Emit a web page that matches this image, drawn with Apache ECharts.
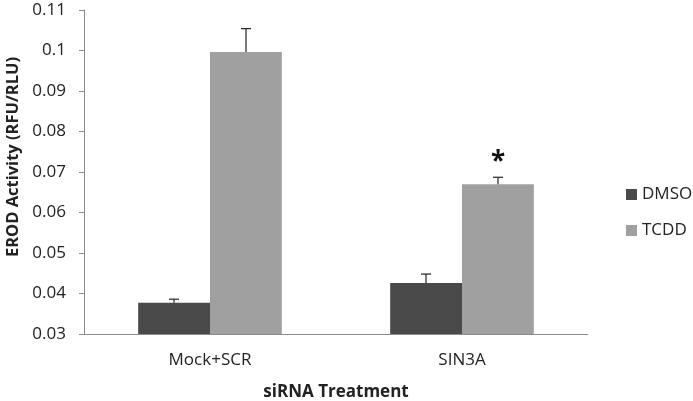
<!DOCTYPE html>
<html><head><meta charset="utf-8">
<script src="https://cdn.jsdelivr.net/npm/echarts@6/dist/echarts.min.js"></script>
<style>html,body{margin:0;padding:0;background:#fff}#c{width:693px;height:401px}</style>
</head><body><div id="c"></div>
<script>
const categories = ["Mock+SCR", "SIN3A"];
const seriesNames = ["DMSO", "TCDD"];
const dmso = [0.0377, 0.0426];
const dmsoErr = [0.0009, 0.0022];
const tcdd = [0.0996, 0.0670];
const tcddErr = [0.0058, 0.0017];
const significance = ["", "*"];
const yTicks = [0.03, 0.04, 0.05, 0.06, 0.07, 0.08, 0.09, 0.1, 0.11];
const yTitle = "EROD Activity (RFU/RLU)";
const xTitle = "siRNA Treatment";

const font = "'Open Sans', sans-serif";
const chart = echarts.init(document.getElementById('c'));

function errSeries(vals, errs, idx, sig) {
  return {
    type: 'custom', name: seriesNames[idx] + ' err', z: 5, silent: true,
    data: vals.map((v, i) => [i, v, errs[i], sig ? sig[i] : ""]),
    renderItem: function (params, api) {
      const ci = api.value(0);
      const base = api.coord([ci, api.value(1)]);
      const top = api.coord([ci, api.value(1) + api.value(2)]);
      const bw = api.size([1, 0])[0];
      const barW = bw * 0.2857;
      const x = base[0] + (idx === 0 ? -barW / 2 : barW / 2);
      const children = [
        {type: 'line', shape: {x1: x, y1: base[1], x2: x, y2: top[1]}, style: {stroke: '#222', lineWidth: 1.2}},
        {type: 'line', shape: {x1: x - 5, y1: top[1], x2: x + 5, y2: top[1]}, style: {stroke: '#222', lineWidth: 1.2}}
      ];
      const s = api.value(3);
      if (s) {
        children.push({type: 'text', style: {text: String(s), x: x, y: top[1] - 2, textAlign: 'center', textVerticalAlign: 'bottom', font: 'bold 26px ' + font, fill: '#111'}});
      }
      return {type: 'group', children: children};
    }
  };
}

chart.setOption({
  animation: false,
  backgroundColor: '#fff',
  grid: {left: 84, right: 105, top: 10, bottom: 67, outerBoundsMode: 'none', containLabel: false},
  legend: {
    data: seriesNames, orient: 'vertical', left: 621, top: 181, itemGap: 19,
    icon: 'rect', itemWidth: 11, itemHeight: 11, itemTextGap: 5,
    textStyle: {fontFamily: font, fontSize: 17, color: '#222'}
  },
  graphic: [
    {type: 'text', x: 13, y: 157, rotation: Math.PI / 2,
      style: {text: yTitle, textAlign: 'center', textVerticalAlign: 'middle', font: 'bold 16.5px ' + font, fill: '#222'}},
    {type: 'text', x: 336, y: 392,
      style: {text: xTitle, textAlign: 'center', textVerticalAlign: 'middle', font: 'bold 17px ' + font, fill: '#222'}}
  ],
  xAxis: {
    type: 'category', data: categories,
    axisLine: {lineStyle: {color: '#8c8c8c', width: 1}},
    axisTick: {show: false},
    axisLabel: {fontFamily: font, fontSize: 17, color: '#222', margin: 18}
  },
  yAxis: {
    type: 'value', min: yTicks[0], max: yTicks[yTicks.length - 1], interval: 0.01,
    axisLine: {show: true, lineStyle: {color: '#8c8c8c', width: 1}},
    axisTick: {show: true, length: 5, lineStyle: {color: '#8c8c8c'}},
    splitLine: {show: false},
    axisLabel: {fontFamily: font, fontSize: 17, color: '#222', margin: 18,
      formatter: v => String(parseFloat(v.toFixed(3)))}
  },
  series: [
    {type: 'bar', name: 'DMSO', data: dmso, barGap: '0%', barCategoryGap: '43%', itemStyle: {color: '#4a4a4a'}},
    {type: 'bar', name: 'TCDD', data: tcdd, barGap: '0%', barCategoryGap: '43%', itemStyle: {color: '#a0a0a0'}},
    errSeries(dmso, dmsoErr, 0, null),
    errSeries(tcdd, tcddErr, 1, significance)
  ]
});
</script>
</body></html>
